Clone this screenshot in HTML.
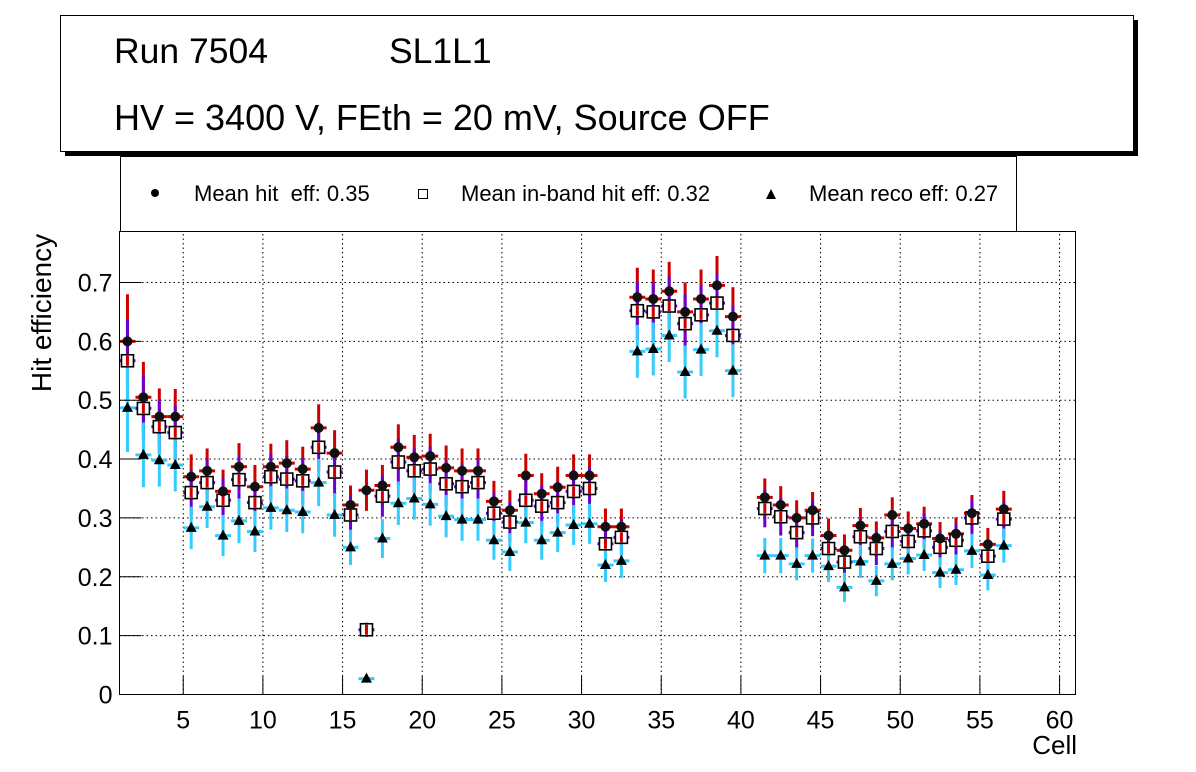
<!DOCTYPE html>
<html><head><meta charset="utf-8"><style>
html,body{margin:0;padding:0;background:#fff;}
svg{display:block;font-family:"Liberation Sans",sans-serif;}
</style></head><body>
<svg id="chart" width="1196" height="772" viewBox="0 0 1196 772">
<g>
<rect x="65" y="20" width="1073" height="136" fill="#000"/>
<rect x="60.5" y="15.5" width="1073" height="136" fill="#fff" stroke="#000" stroke-width="1"/>
<text x="114" y="63" font-size="35.5">Run 7504</text>
<text x="389" y="63" font-size="35.5">SL1L1</text>
<text x="114" y="130" font-size="36">HV = 3400 V, FEth = 20 mV, Source OFF</text>
</g>
<g>
<rect x="120.5" y="156.5" width="896" height="75" fill="#fff" stroke="#000" stroke-width="1"/>
<g><circle cx="155" cy="193" r="4" fill="#000"/><text x="194" y="201" font-size="22" xml:space="preserve">Mean hit  eff: 0.35</text></g>
<g><rect x="418.5" y="189.5" width="9" height="9" fill="#fff" stroke="#000"/><text x="461" y="201" font-size="22">Mean in-band hit eff: 0.32</text></g>
<g><polygon points="771,189 766,199 776,199" fill="#000"/><text x="809" y="201" font-size="22">Mean reco eff: 0.27</text></g>
</g>
<g id="grid"></g>
<g id="marks"></g>
<rect x="119.5" y="231.5" width="956" height="463" fill="none" stroke="#000" stroke-width="1"/>
<g id="axes"></g>
<text x="1077" y="754" font-size="26" text-anchor="end">Cell</text>
<text transform="translate(51,313) rotate(-90)" font-size="28" text-anchor="middle">Hit efficiency</text>
</svg>
<script>
const cells=[1,2,3,4,5,6,7,8,9,10,11,12,13,14,15,16,17,18,19,20,21,22,23,24,25,26,27,28,29,30,31,32,33,34,35,36,37,38,39,41,42,43,44,45,46,47,48,49,50,51,52,53,54,55,56];
const hitEff=[0.60,0.505,0.472,0.472,0.37,0.38,0.345,0.387,0.353,0.387,0.393,0.383,0.453,0.41,0.322,0.347,0.355,0.42,0.403,0.405,0.385,0.38,0.38,0.328,0.313,0.372,0.341,0.352,0.372,0.372,0.285,0.285,0.675,0.672,0.685,0.65,0.672,0.695,0.642,0.335,0.322,0.30,0.313,0.27,0.245,0.287,0.266,0.305,0.282,0.29,0.265,0.273,0.308,0.255,0.315];
const inbandEff=[0.567,0.486,0.455,0.445,0.343,0.36,0.33,0.365,0.326,0.37,0.366,0.363,0.42,0.378,0.305,0.11,0.337,0.395,0.38,0.383,0.358,0.353,0.36,0.308,0.293,0.33,0.32,0.326,0.345,0.35,0.256,0.267,0.652,0.65,0.66,0.63,0.645,0.665,0.61,0.316,0.302,0.275,0.30,0.248,0.225,0.268,0.248,0.277,0.26,0.278,0.25,0.262,0.30,0.235,0.298];
const recoEff=[0.487,0.407,0.398,0.39,0.283,0.319,0.27,0.295,0.277,0.317,0.313,0.31,0.36,0.305,0.25,0.027,0.265,0.325,0.333,0.323,0.303,0.297,0.297,0.262,0.242,0.292,0.262,0.275,0.288,0.29,0.22,0.227,0.583,0.587,0.61,0.548,0.586,0.618,0.55,0.236,0.236,0.222,0.236,0.218,0.182,0.226,0.193,0.222,0.231,0.237,0.207,0.212,0.244,0.203,0.253];
const errHit=[0.08,0.06,0.048,0.047,0.038,0.038,0.037,0.04,0.037,0.039,0.039,0.038,0.04,0.039,0.033,0.035,0.035,0.039,0.038,0.038,0.038,0.038,0.038,0.035,0.034,0.037,0.035,0.035,0.036,0.036,0.031,0.031,0.05,0.05,0.05,0.05,0.05,0.05,0.05,0.032,0.032,0.03,0.031,0.029,0.027,0.03,0.028,0.03,0.029,0.029,0.028,0.028,0.031,0.028,0.031];
const errInband=[0.07,0.055,0.045,0.045,0.038,0.038,0.037,0.04,0.037,0.039,0.039,0.038,0.04,0.039,0.033,0.012,0.035,0.039,0.038,0.038,0.038,0.038,0.038,0.035,0.034,0.037,0.035,0.035,0.036,0.036,0.031,0.031,0.05,0.05,0.05,0.05,0.05,0.05,0.05,0.032,0.032,0.03,0.031,0.029,0.027,0.03,0.028,0.03,0.029,0.029,0.028,0.028,0.031,0.028,0.031];
const errReco=[0.075,0.055,0.045,0.045,0.036,0.036,0.035,0.038,0.035,0.037,0.037,0.036,0.04,0.037,0.03,0.004,0.033,0.037,0.036,0.036,0.036,0.036,0.036,0.033,0.032,0.035,0.033,0.033,0.034,0.034,0.029,0.029,0.045,0.045,0.045,0.045,0.045,0.045,0.045,0.03,0.03,0.028,0.029,0.027,0.025,0.028,0.026,0.028,0.027,0.027,0.026,0.026,0.029,0.026,0.029];
const xTicks=[5,10,15,20,25,30,35,40,45,50,55,60];
const yTicks=[0,0.1,0.2,0.3,0.4,0.5,0.6,0.7];
const yTickLabels=["0","0.1","0.2","0.3","0.4","0.5","0.6","0.7"];

const X0=119.5,X1=1075.5,Y0=694.5,Y1=231.5,XMIN=1,XMAX=61,YMIN=0,YMAX=0.7866;
function xs(v){return X0+(v-XMIN)/(XMAX-XMIN)*(X1-X0);}
function ys(v){return Y0-(v-YMIN)/(YMAX-YMIN)*(Y0-Y1);}
const NS="http://www.w3.org/2000/svg";
function mk(tag,attrs,parent){const e=document.createElementNS(NS,tag);for(const k in attrs)e.setAttribute(k,attrs[k]);parent.appendChild(e);return e;}
const grid=document.getElementById('grid'),axes=document.getElementById('axes'),marks=document.getElementById('marks');

xTicks.forEach(t=>{const x=xs(t);
 const g=mk('line',{x1:x,x2:x,y1:Y0,y2:Y1,stroke:'#000','stroke-dasharray':'1.5,3','stroke-width':1},grid);
 
 
 const tk=mk('line',{x1:x,x2:x,y1:Y0,y2:Y0-18,stroke:'#000'},axes);
 
 
 const lb=mk('text',{x:x,y:Y0+34,'font-size':25,'text-anchor':'middle'},axes);lb.textContent=t;
 
 
});
yTicks.forEach((t,i)=>{const y=ys(t);
 if(i>0){const g=mk('line',{x1:X0,x2:X1,y1:y,y2:y,stroke:'#000','stroke-dasharray':'1.5,3','stroke-width':1},grid);
 
 }
 const tk=mk('line',{x1:X0,x2:X0+22,y1:y,y2:y,stroke:'#000'},axes);
 
 
 const lb=mk('text',{x:X0-7,y:y+9,'font-size':25,'text-anchor':'end'},axes);lb.textContent=yTickLabels[i];
 
 
});

function errs(vals,er,color,name){
 cells.forEach((c,i)=>{const xc=xs(c+0.5);
  const v=mk('line',{x1:xc,x2:xc,y1:ys(vals[i]-er[i]),y2:ys(vals[i]+er[i]),stroke:color,'stroke-width':3},marks);
  
  
  mk('line',{x1:xs(c),x2:xs(c+1),y1:ys(vals[i]),y2:ys(vals[i]),stroke:color,'stroke-width':3},marks);
 });
}
errs(hitEff,errHit,'#cc0000','hit');
errs(inbandEff,errInband,'#6a00cc','inband');
errs(recoEff,errReco,'#33ccff','reco');
cells.forEach((c,i)=>{const xc=xs(c+0.5);
 const s=mk('rect',{x:xc-6,y:ys(inbandEff[i])-6,width:12,height:12,fill:'#fff',stroke:'#000','stroke-width':1.6},marks);
 
 
 mk('line',{x1:xc,x2:xc,y1:ys(inbandEff[i])-5,y2:ys(inbandEff[i])+5,stroke:'#cc0000','stroke-width':3},marks);
 const p=mk('circle',{cx:xc,cy:ys(hitEff[i]),r:5,fill:'#111'},marks);
 
 
 const y=ys(recoEff[i]);
 const tr=mk('polygon',{points:`${xc},${y-6} ${xc-5.5},${y+4} ${xc+5.5},${y+4}`,fill:'#000'},marks);
 
 
});
</script>
</body></html>
